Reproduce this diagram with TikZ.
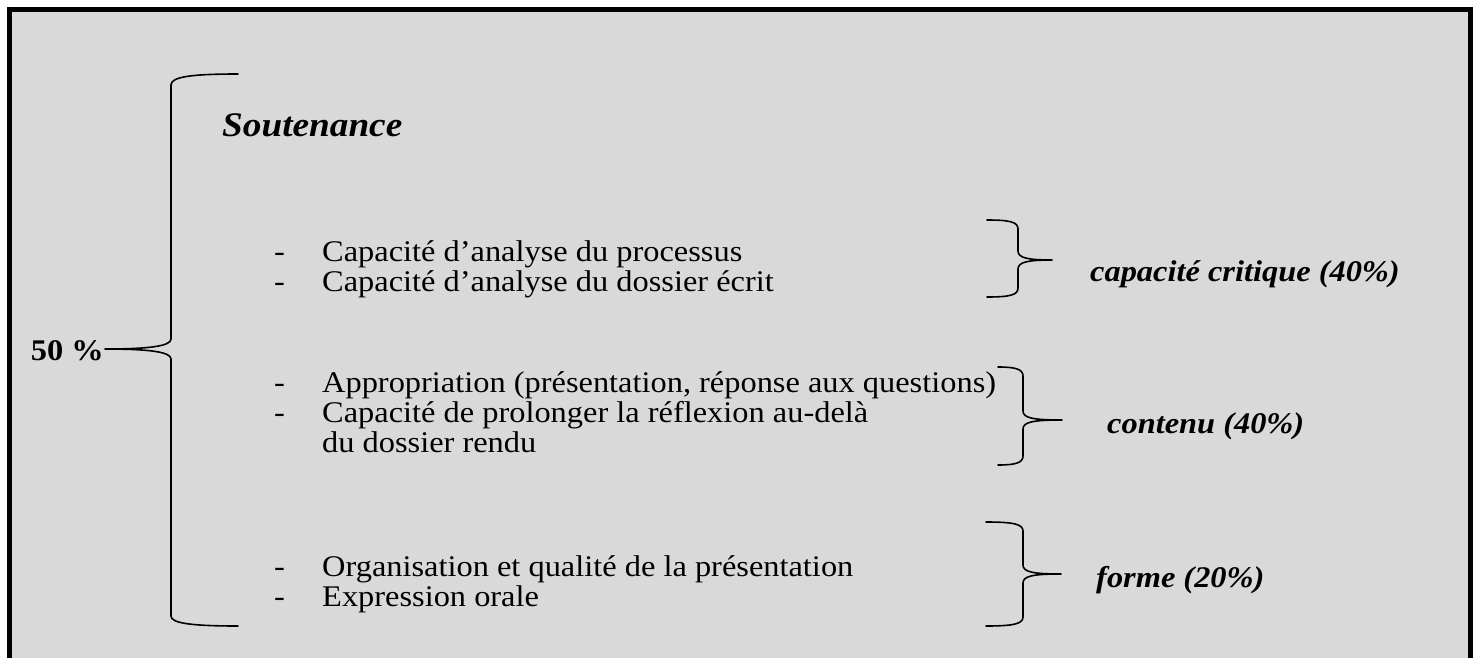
\documentclass[tikz,border=0pt]{standalone}
\usepackage{fontspec}
\setmainfont{Liberation Serif}[FakeStretch=1.08]
\definecolor{bg}{HTML}{D9D9D9}
\tikzset{
  itemtext/.style={anchor=base west, inner sep=0pt, font=\fontsize{30}{33}\selectfont},
  dashtext/.style={anchor=base west, inner sep=0pt, font=\fontsize{30}{33}\selectfont},
  labtext/.style={anchor=base west, inner sep=0pt, font=\fontsize{30}{33}\selectfont\bfseries\itshape},
  bracepath/.style={line width=1.6pt, line join=round, line cap=round},
  framepath/.style={line width=5.5pt}
}
\begin{document}
\begin{tikzpicture}[x=1pt,y=-1pt]
\useasboundingbox (0,0) rectangle (1475,658);
\clip (0,0) rectangle (1475,658);
\fill[white] (0,0) rectangle (1475,658);
\fill[bg] (9.5,9.5) rectangle (1470.5,700);
\draw[framepath] (9.5,700) -- (9.5,9.5) -- (1470.5,9.5) -- (1470.5,700);

% title
\node[labtext, font=\fontsize{34.5}{38}\selectfont\bfseries\itshape] (title) at (222,136) {Soutenance};

% 50 %
\node[anchor=base east, inner sep=0pt, font=\fontsize{30}{33}\selectfont\bfseries] (pct) at (104,360) {50 \%};
\coordinate (bigtip) at (105,349);
\draw[bracepath] (238,74) .. controls (190,74) and (171,77) .. (171,85) -- (171,339)
  .. controls (171,346) and (150,349) .. (bigtip)
  .. controls (150,349) and (171,352) .. (171,359) -- (171,616)
  .. controls (171,623) and (190,626) .. (238,626);

% group 1
\node[dashtext] (d1) at (274,261) {-};
\node[itemtext] (t1) at (322,261) {Capacité d’analyse du processus};
\node[dashtext] (d2) at (274,291) {-};
\node[itemtext] (t2) at (322,291) {Capacité d’analyse du dossier écrit};
\coordinate (tip1) at (1052,260);
\draw[bracepath] (987,220) .. controls (1010,220) and (1018,222) .. (1018,229) -- (1018,251)
  .. controls (1018,258) and (1028,260) .. (tip1)
  .. controls (1028,260) and (1018,262) .. (1018,269) -- (1018,288)
  .. controls (1018,295) and (1010,297) .. (987,297);
\node[labtext] (l1) at (1090,281) {capacité critique (40\%)};

% group 2
\node[dashtext] (d3) at (274,392) {-};
\node[itemtext] (t3) at (322,392) {Appropriation (présentation, réponse aux questions)};
\node[dashtext] (d4) at (274,422) {-};
\node[itemtext] (t4) at (322,422) {Capacité de prolonger la réflexion au-delà};
\node[itemtext] (t5) at (322,452) {du dossier rendu};
\coordinate (tip2) at (1062,420);
\draw[bracepath] (998,367) .. controls (1015,367) and (1023,369) .. (1023,376) -- (1023,411)
  .. controls (1023,418) and (1033,420) .. (tip2)
  .. controls (1033,420) and (1023,422) .. (1023,429) -- (1023,456)
  .. controls (1023,463) and (1015,465) .. (998,465);
\node[labtext] (l2) at (1107,433) {contenu (40\%)};

% group 3
\node[dashtext] (d6) at (274,576) {-};
\node[itemtext] (t6) at (322,576) {Organisation et qualité de la présentation};
\node[dashtext] (d7) at (274,606) {-};
\node[itemtext] (t7) at (322,606) {Expression orale};
\coordinate (tip3) at (1061,574);
\draw[bracepath] (986,522) .. controls (1013,522) and (1023,524) .. (1023,531) -- (1023,565)
  .. controls (1023,572) and (1033,574) .. (tip3)
  .. controls (1033,574) and (1023,576) .. (1023,583) -- (1023,617)
  .. controls (1023,624) and (1013,626) .. (986,626);
\node[labtext] (l3) at (1096,587) {forme (20\%)};
\end{tikzpicture}
\end{document}
